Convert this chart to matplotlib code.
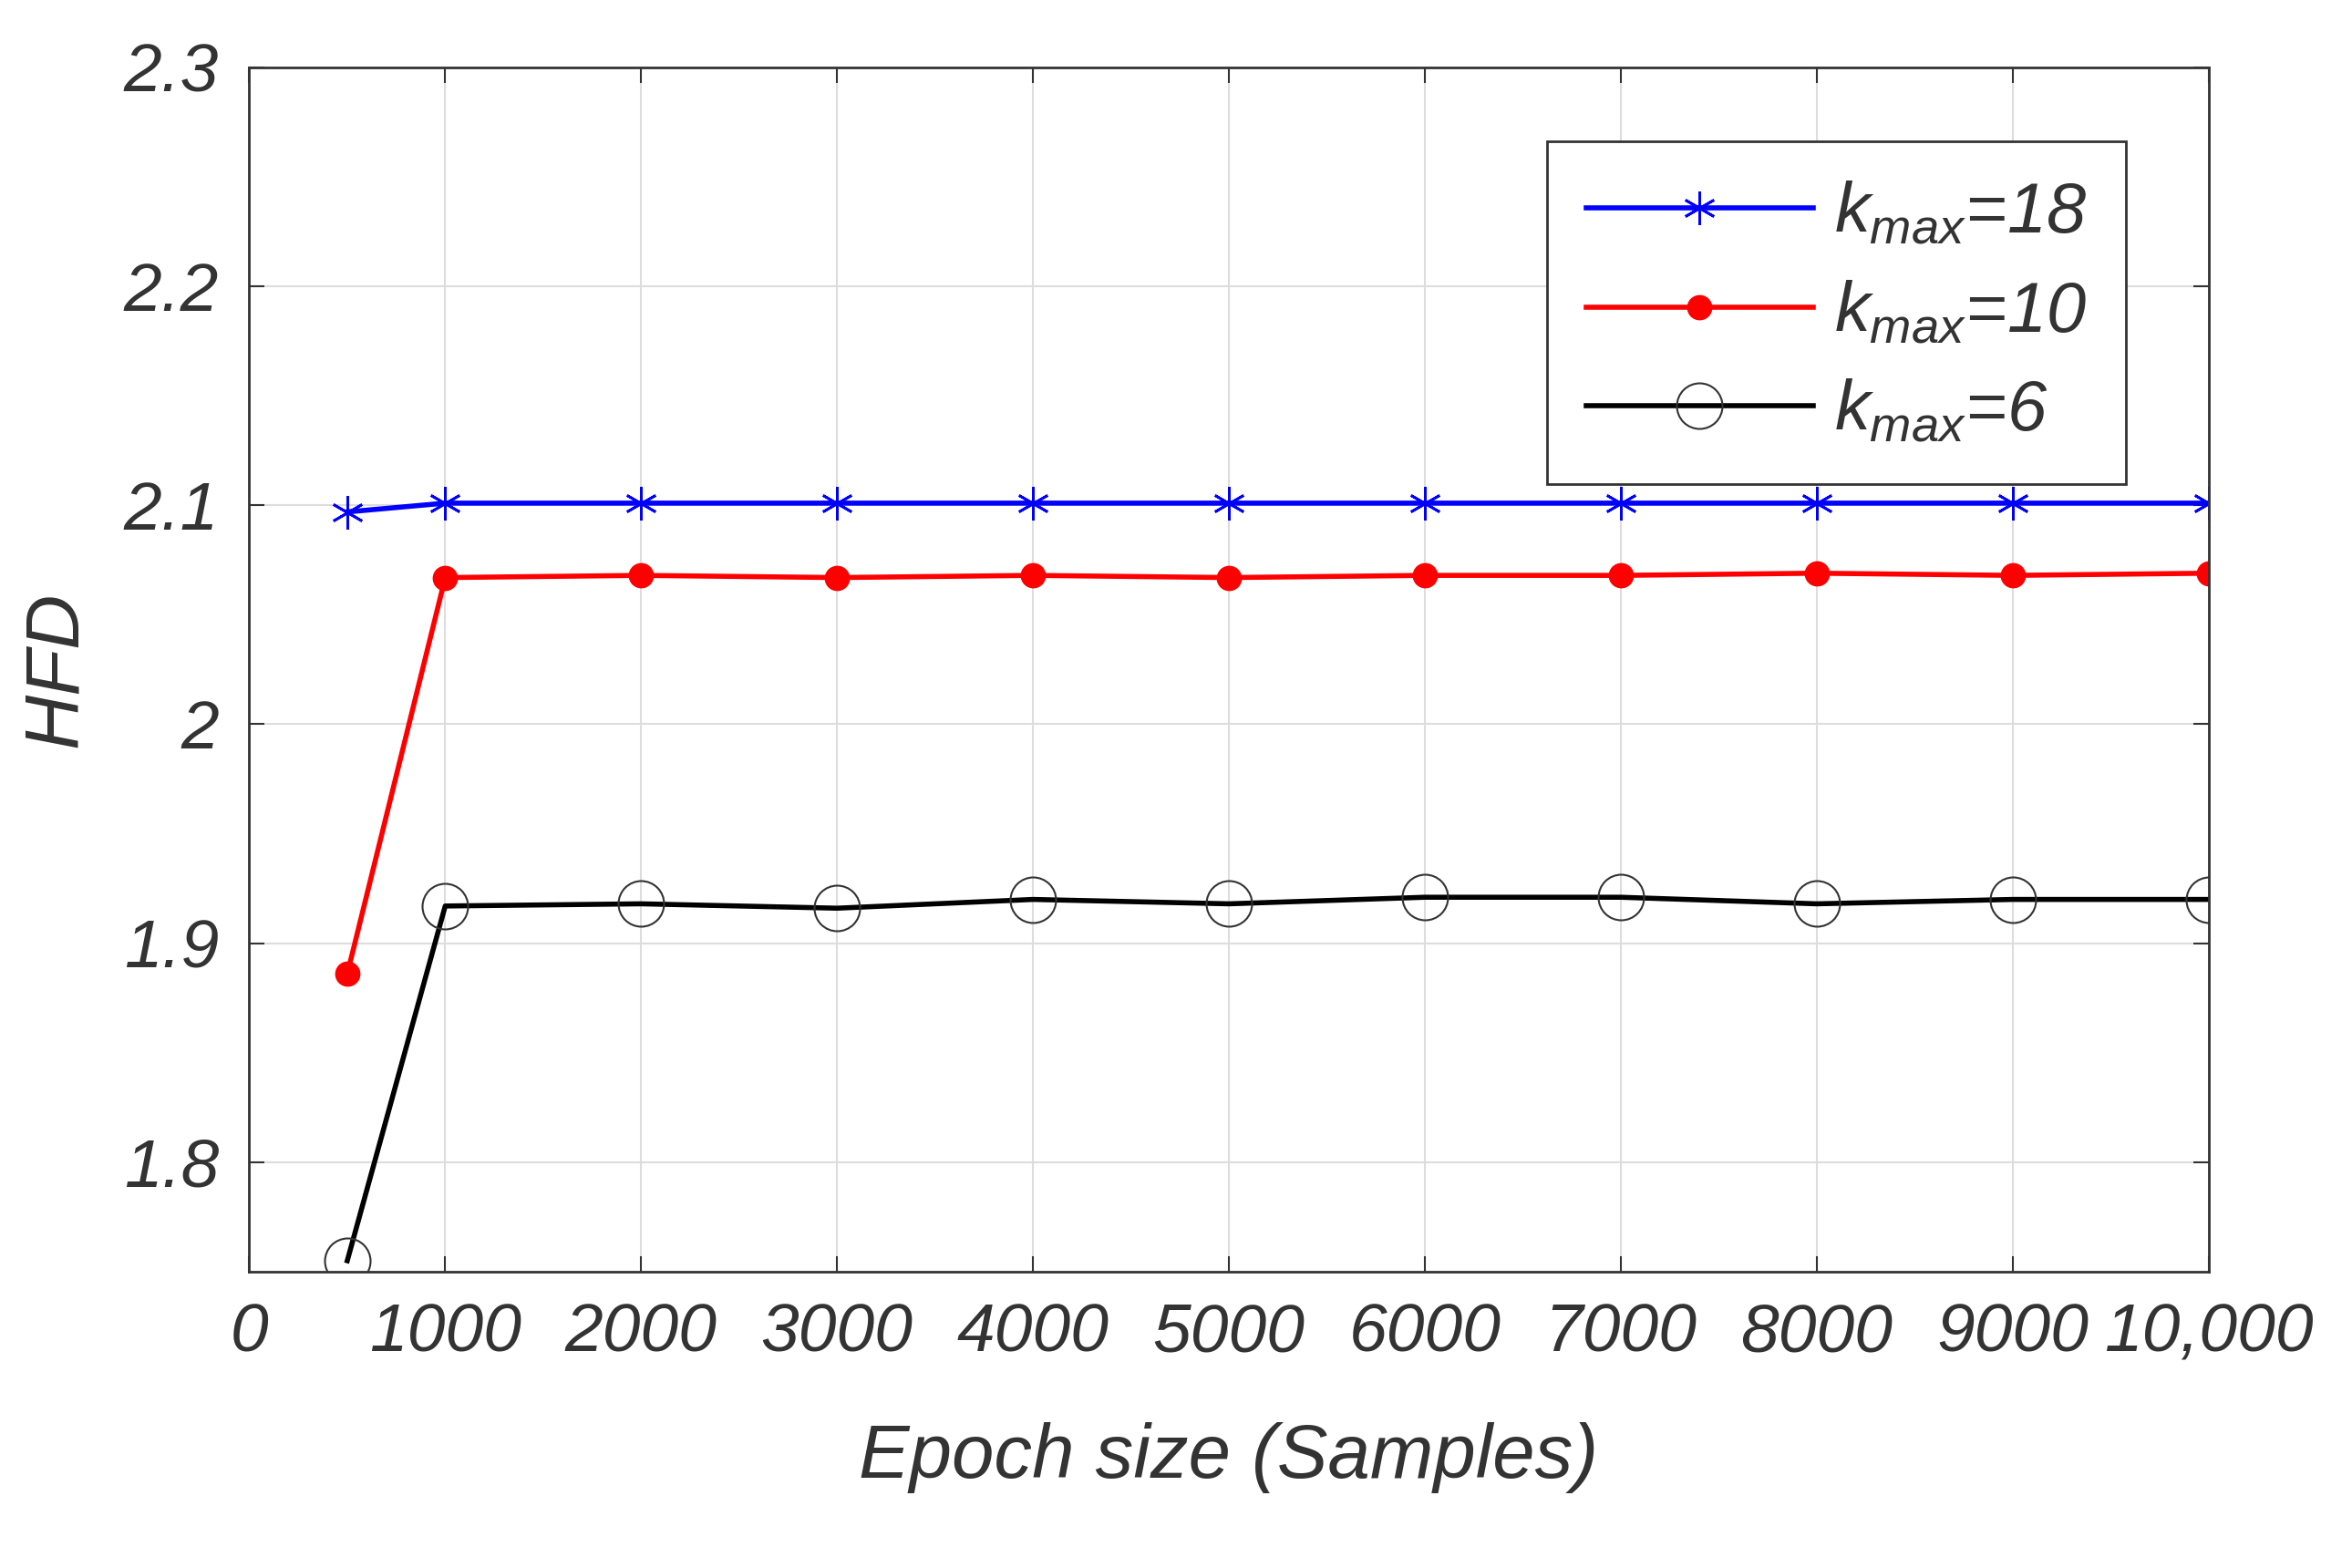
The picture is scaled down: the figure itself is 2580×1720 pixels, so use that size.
import matplotlib
matplotlib.use("Agg")
import matplotlib.pyplot as plt

x = [500, 1000, 2000, 3000, 4000, 5000, 6000, 7000, 8000, 9000, 10000]
k18 = [2.097, 2.101, 2.101, 2.101, 2.101, 2.101, 2.101, 2.101, 2.101, 2.101, 2.101]
k10 = [1.886, 2.067, 2.068, 2.067, 2.068, 2.067, 2.068, 2.068, 2.069, 2.068, 2.069]
k6 = [1.755, 1.917, 1.918, 1.916, 1.920, 1.918, 1.921, 1.921, 1.918, 1.920, 1.920]
xticks = [0, 1000, 2000, 3000, 4000, 5000, 6000, 7000, 8000, 9000, 10000]
xticklabels = ["0", "1000", "2000", "3000", "4000", "5000", "6000", "7000", "8000", "9000", "10,000"]
yticks = [1.8, 1.9, 2.0, 2.1, 2.2, 2.3]
yticklabels = ["1.8", "1.9", "2", "2.1", "2.2", "2.3"]

plt.rcParams["font.family"] = "Liberation Sans"
plt.rcParams["font.style"] = "italic"
plt.rcParams["mathtext.fontset"] = "custom"
plt.rcParams["mathtext.it"] = "Liberation Sans:italic"
plt.rcParams["mathtext.rm"] = "Liberation Sans:italic"

fig = plt.figure(figsize=(25.8, 17.2), dpi=100)
ax = fig.add_axes([0.106, 0.189, 0.833, 0.768])
ax.plot(x, k18, color="blue", lw=4, marker=(6, 2, 0), ms=26, mew=2, label=r"$k_{max}$=18")
ax.plot(x, k10, color="red", lw=4, marker="o", ms=19, label=r"$k_{max}$=10")
ax.plot(x, k6, color="black", lw=4, marker="o", ms=36, mfc="none", mec="#333333", mew=1.5, label=r"$k_{max}$=6")
ax.set_xlim(0, 10000)
ax.set_ylim(1.75, 2.3)
ax.set_xticks(xticks)
ax.set_xticklabels(xticklabels)
ax.set_yticks(yticks)
ax.set_yticklabels(yticklabels)
ax.grid(True, color="#dddddd", lw=1.5)
ax.tick_params(direction="in", top=True, right=True, labelsize=54, length=12, width=1.5, pad=24, colors="#333333")
for s in ax.spines.values():
    s.set_linewidth(2)
    s.set_color("#333333")
ax.set_xlabel("Epoch size (Samples)", fontsize=60, labelpad=45, color="#333333")
ax.set_ylabel("HFD", fontsize=60, labelpad=25, color="#333333")
leg = ax.legend(loc="upper right", bbox_to_anchor=(0.976, 0.968), fontsize=56, fancybox=False,
                edgecolor="#333333", framealpha=1, handlelength=3.2, labelspacing=0.45,
                borderpad=0.55, handletextpad=0.3)
leg.get_frame().set_linewidth(2)
for t in leg.get_texts():
    t.set_color("#333333")
fig.savefig("out.png", dpi=100)
